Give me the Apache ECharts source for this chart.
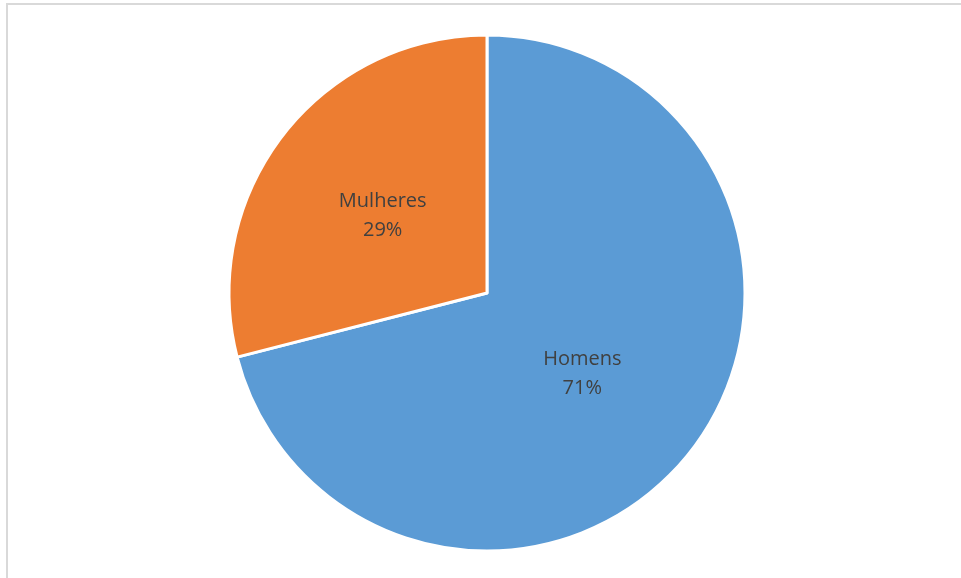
<!DOCTYPE html>
<html>
<head>
<meta charset="utf-8">
<style>
  html, body { margin: 0; padding: 0; background: #fff; }
  #chart { width: 961px; height: 578px; }
</style>
<script src="https://cdn.jsdelivr.net/npm/echarts@6/dist/echarts.min.js"></script>
</head>
<body>
<div id="chart"></div>
<script>
// Share of respondents by sex (%)
const categories = ['Homens', 'Mulheres'];
const shares = [71, 29];
const colors = ['#5B9BD5', '#ED7D31'];
const labelShift = [[-9, 0], [0, 4]];

const chart = echarts.init(document.getElementById('chart'));
chart.setOption({
  backgroundColor: '#ffffff',
  animation: false,
  graphic: [{
    type: 'rect',
    shape: { x: 7, y: 4, width: 1000, height: 1000 },
    style: { fill: 'none', stroke: '#d9d9d9', lineWidth: 2 },
    silent: true
  }],
  series: [{
    type: 'pie',
    center: [487, 293],
    radius: [0, 258],
    startAngle: 90,
    clockwise: true,
    data: categories.map((name, i) => ({
      name,
      value: shares[i],
      itemStyle: { color: colors[i] },
      label: { offset: labelShift[i] }
    })),
    itemStyle: { borderColor: '#ffffff', borderWidth: 3 },
    label: {
      position: 'inner',
      formatter: '{b}\n{d}%',
      color: '#404040',
      fontFamily: 'Open Sans, sans-serif',
      fontSize: 20,
      lineHeight: 29
    },
    labelLine: { show: false },
    emphasis: { disabled: true }
  }]
});
</script>
</body>
</html>
